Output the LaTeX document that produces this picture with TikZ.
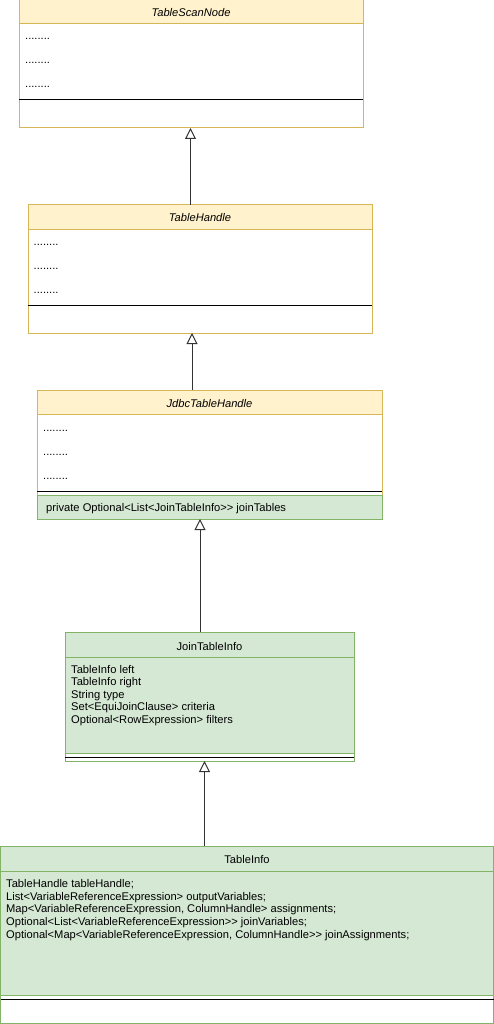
\documentclass[tikz,border=0pt]{standalone}
\usepackage{fontspec}
\setmainfont{Liberation Sans}
\usetikzlibrary{arrows.meta}
\definecolor{yfill}{HTML}{FFF2CC}
\definecolor{ybord}{HTML}{D6B656}
\definecolor{gfill}{HTML}{D5E8D4}
\definecolor{gbord}{HTML}{82B366}
\definecolor{lnk}{HTML}{333333}
\begin{document}
\begin{tikzpicture}[x=1pt,y=-1pt,
  ybox/.style={draw=ybord, fill=white, line width=1pt, rectangle, inner sep=0pt, outer sep=0pt, anchor=north west},
  yhdr/.style={draw=ybord, fill=yfill, line width=1pt, rectangle, inner sep=0pt, outer sep=0pt, anchor=north west},
  gbox/.style={draw=gbord, fill=gfill, line width=1pt, rectangle, inner sep=0pt, outer sep=0pt, anchor=north west},
  sepline/.style={draw=black, line width=1pt},
  txt/.style={font=\fontsize{11.15}{12.5}\selectfont, inner sep=0pt, anchor=base west, text=black},
  htxt/.style={font=\fontsize{11.15}{12.5}\selectfont, inner sep=0pt, anchor=base, text=black},
  inh/.style={draw=lnk, line width=1pt, -{Triangle[open, length=11pt, width=11pt, line width=1pt]}}
]
\useasboundingbox (0,0) rectangle (494,1024);

% ---- TableScanNode
\node[ybox, minimum width=344pt, minimum height=128pt] (tsn) at (19,0) {};
\node[yhdr, minimum width=344pt, minimum height=24pt] (tsnh) at (19,0) {};
\node[htxt, font=\fontsize{11.15}{12.5}\selectfont\itshape] (tsnt) at (191,17) {TableScanNode};
\node[txt] (tsnd1) at (25,40) {........};
\node[txt] (tsnd2) at (25,64) {........};
\node[txt] (tsnd3) at (25,88) {........};
\draw[sepline] (19,100) -- (363,100);

% ---- TableHandle
\node[ybox, minimum width=344pt, minimum height=128pt] (th) at (28,205) {};
\node[yhdr, minimum width=344pt, minimum height=24.5pt] (thh) at (28,205) {};
\node[htxt, font=\fontsize{11.15}{12.5}\selectfont\itshape] (tht) at (200,222) {TableHandle};
\node[txt] (thd1) at (33.5,245) {........};
\node[txt] (thd2) at (33.5,269) {........};
\node[txt] (thd3) at (33.5,293) {........};
\draw[sepline] (28,305.3) -- (372,305.3);

% ---- JdbcTableHandle
\node[ybox, minimum width=345pt, minimum height=129pt] (jdbc) at (37,390) {};
\node[yhdr, minimum width=345pt, minimum height=24.5pt] (jdbch) at (37,390) {};
\node[htxt, font=\fontsize{11.15}{12.5}\selectfont\itshape] (jdbct) at (209.5,407) {JdbcTableHandle};
\node[txt] (jdbcd1) at (43,431.5) {........};
\node[txt] (jdbcd2) at (43,455.5) {........};
\node[txt] (jdbcd3) at (43,479.5) {........};
\draw[sepline] (37,491.5) -- (382,491.5);
\node[gbox, minimum width=345pt, minimum height=24pt] (jdbcg) at (37,495) {};
\node[txt] (jdbcf) at (46,511.5) {private Optional<List<JoinTableInfo>{}> joinTables};

% ---- JoinTableInfo
\node[gbox, minimum width=289pt, minimum height=129pt] (jti) at (65,632) {};
\node[gbox, minimum width=289pt, minimum height=25.5pt] (jtih) at (65,632) {};
\node[htxt] (jtit) at (209.5,650) {JoinTableInfo};
\node[txt] (jti1) at (71,673) {TableInfo left};
\node[txt] (jti2) at (71,685.6) {TableInfo right};
\node[txt] (jti3) at (71,698.2) {String type};
\node[txt] (jti4) at (71,710.8) {Set<EquiJoinClause> criteria};
\node[txt] (jti5) at (71,723.4) {Optional<RowExpression> filters};
\draw[draw=gbord, fill=white, line width=1pt] (65,753) rectangle (354,761);
\draw[sepline] (65,757.3) -- (354,757.3);

% ---- TableInfo
\node[gbox, minimum width=493pt, minimum height=177pt] (ti) at (0.5,846) {};
\node[gbox, minimum width=493pt, minimum height=25pt] (tih) at (0.5,846) {};
\node[htxt] (tit) at (247,863) {TableInfo};
\node[txt] (ti1) at (6,887.5) {TableHandle tableHandle;};
\node[txt] (ti2) at (6,900.2) {List<VariableReferenceExpression> outputVariables;};
\node[txt] (ti3) at (6,912.9) {Map<VariableReferenceExpression, ColumnHandle> assignments;};
\node[txt] (ti4) at (6,925.6) {Optional<List<VariableReferenceExpression>{}> joinVariables;};
\node[txt] (ti5) at (6,938.3) {Optional<Map<VariableReferenceExpression, ColumnHandle>{}> joinAssignments;};
\draw[draw=gbord, fill=white, line width=1pt] (0.5,995) rectangle (493.5,1023);
\draw[sepline] (0.5,999.3) -- (493.5,999.3);

% ---- inheritance connectors
\coordinate (a1) at (190.5,0);
\coordinate (a2) at (192,0);
\coordinate (a3) at (200,0);
\coordinate (a4) at (204.5,0);
\draw[inh] (a1 |- th.north) -- (a1 |- tsn.south);
\draw[inh] (a2 |- jdbc.north) -- (a2 |- th.south);
\draw[inh] (a3 |- jti.north) -- (a3 |- jdbc.south);
\draw[inh] (a4 |- ti.north) -- (a4 |- jti.south);
\end{tikzpicture}
\end{document}
